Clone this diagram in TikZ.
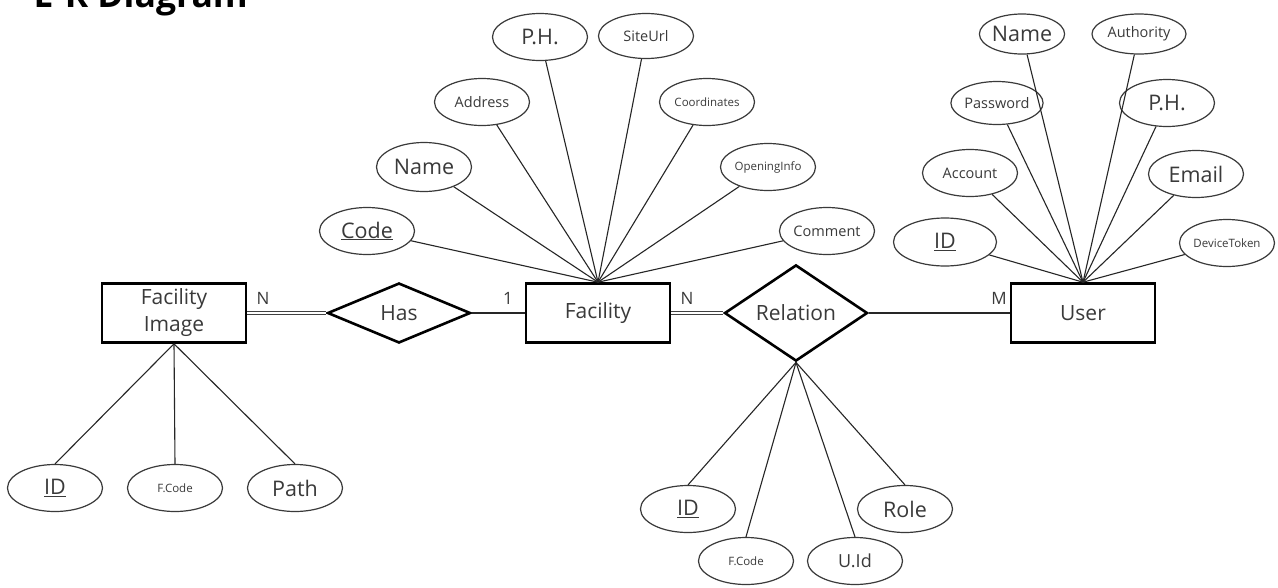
\documentclass[tikz,border=0pt]{standalone}
\usepackage{fontspec}
\setmainfont{Open Sans}
\usetikzlibrary{shapes.geometric}
\definecolor{ink}{HTML}{3A3A3A}

\begin{document}
\begin{tikzpicture}[
  x=1pt, y=-1pt,
  font=\fontsize{21}{27}\selectfont, text=ink,
  entitybox/.style={draw=black, line width=2.6pt, minimum width=144pt, minimum height=59pt, inner sep=0pt, align=center},
  relbox/.style={diamond, draw=black, line width=2.6pt, minimum width=143pt, minimum height=60pt, inner sep=0pt},
  attrnode/.style={ellipse, draw=ink, line width=1.2pt, minimum width=95pt, minimum height=47pt, inner sep=0pt},
  bigtxt/.style={font=\fontsize{21.5}{24}\selectfont},
  midtxt/.style={font=\fontsize{14.5}{16}\selectfont},
  smalltxt/.style={font=\fontsize{11.5}{13}\selectfont},
  attrline/.style={draw=black!85, line width=1.1pt},
  dblline/.style={draw=black!75, line width=1.4pt, double=white, double distance=1.4pt},
  cardlabel/.style={font=\fontsize{17}{18}\selectfont},
]
\fill[white] (0,0) rectangle (1278,587);
\useasboundingbox (0,0) rectangle (1278,587);

% --- title, cut by the top edge ---
\node[anchor=base west, text=black, font=\fontsize{35.5}{38}\selectfont\bfseries] (title) at (30,7) {E-R Diagram};

% --- entities and relationships ---
\def\midy{313}
\node[entitybox] (fimg) at (174,\midy) {Facility\\Image};
\node[relbox] (has) at (399,\midy) {Has};
\node[entitybox] (fac) at (598,\midy) {Facility};
\node[relbox] (rel) at (796,\midy) {Relation};
\node[entitybox] (user) at (1083,\midy) {User};

\draw[dblline] (fimg) -- (has);
\draw[attrline] (has) -- (fac);
\draw[dblline] (fac) -- (rel);
\draw[attrline] (rel) -- (user);

% cardinalities
\node[cardlabel] (cn1) at (263,298) {N};
\node[cardlabel] (c1) at (508,298) {1};
\node[cardlabel] (cn2) at (687,298) {N};
\node[cardlabel] (cm) at (999,298) {M};

% --- facility attributes ---
\node[attrnode, bigtxt] (fcode) at (367,231) {\underline{Code}};
\node[attrnode, bigtxt, minimum height=49pt] (fname) at (424,167) {Name};
\node[attrnode, midtxt] (faddr) at (482,102) {Address};
\node[attrnode, bigtxt] (fph) at (540,37) {P.H.};
\node[attrnode, midtxt, minimum height=45pt] (fsite) at (646,36) {SiteUrl};
\node[attrnode, smalltxt] (fcoord) at (707,102) {Coordinates};
\node[attrnode, smalltxt] (fopen) at (768,167) {OpeningInfo};
\node[attrnode, midtxt] (fcomm) at (827,231) {Comment};
\foreach \a in {fcode,fname,faddr,fph,fsite,fcoord,fopen,fcomm}
  \draw[attrline] (fac.north) -- (\a);

% --- user attributes ---
\node[attrnode, bigtxt, minimum width=103pt, minimum height=48pt] (uid) at (945,242) {\underline{ID}};
\node[attrnode, midtxt] (uacc) at (970,173) {Account};
\node[attrnode, midtxt, minimum width=92pt, minimum height=43pt] (upw) at (997,103) {Password};
\node[attrnode, bigtxt, minimum width=79pt, minimum height=40pt] (uname) at (1022,34) {Name};
\node[attrnode, midtxt, minimum width=94pt, minimum height=40pt] (uauth) at (1139,34) {Authority};
\node[attrnode, bigtxt] (uph) at (1167,103) {P.H.};
\node[attrnode, bigtxt] (uemail) at (1196,174) {Email};
\node[attrnode, smalltxt] (udev) at (1227,243) {DeviceToken};
\foreach \a in {uid,uacc,upw,uname,uauth,uph,uemail,udev}
  \draw[attrline] (user.north) -- (\a);

% --- facility image attributes ---
\node[attrnode, bigtxt] (iid) at (55,488) {\underline{ID}};
\node[attrnode, smalltxt] (ifcode) at (175,488) {F.Code};
\node[attrnode, bigtxt] (ipath) at (295,488) {Path};
\foreach \a in {iid,ifcode,ipath}
  \draw[attrline] (fimg.south) -- (\a.north);

% --- relation attributes ---
\node[attrnode, bigtxt] (rid) at (688,509) {\underline{ID}};
\node[attrnode, smalltxt] (rfcode) at (746,561) {F.Code};
\node[attrnode, font=\fontsize{18}{20}\selectfont] (ruid) at (855,561) {U.Id};
\node[attrnode, bigtxt] (rrole) at (905,509) {Role};
\foreach \a in {rid,rfcode,ruid,rrole}
  \draw[attrline] (rel.south) -- (\a.north);

\end{tikzpicture}
\end{document}
